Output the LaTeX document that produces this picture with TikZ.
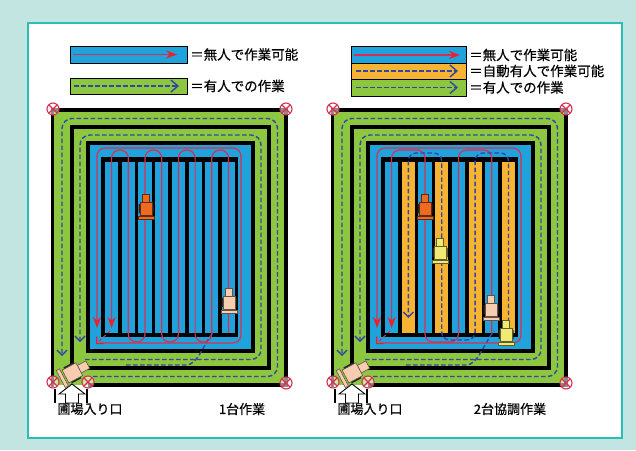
\documentclass[tikz,border=0pt]{standalone}
\usepackage{fontspec}
\setmainfont{Noto Sans CJK JP}[FakeBold=0.5]
\usetikzlibrary{arrows.meta}

\definecolor{mizu}{RGB}{32,163,221}
\definecolor{midori}{RGB}{141,198,63}
\definecolor{daidai}{RGB}{247,180,50}
\definecolor{akairo}{RGB}{214,48,80}
\definecolor{yajiri}{RGB}{236,32,40}
\definecolor{aoiro}{RGB}{50,70,165}
\definecolor{fuchi}{RGB}{42,190,180}
\definecolor{haikei}{RGB}{194,229,225}
\definecolor{konbain}{RGB}{240,105,35}
\definecolor{hada}{RGB}{247,205,175}
\definecolor{kinari}{RGB}{240,234,115}

% machine seen from above: cab up, header down
\tikzset{
  pics/kikai/.style={code={
    \fill[black!85] (-7.5,-3) rectangle (-5,6) (5,-3) rectangle (7.5,6);
    \draw[fill=#1, draw=#1!40!black, line width=0.6pt] (-3.5,-13) rectangle (3.5,-5);
    \draw[fill=#1, draw=#1!40!black, line width=0.6pt] (-6,-5) rectangle (6,8);
    \draw[fill=#1, draw=#1!40!black, line width=0.6pt] (-8,9.5) rectangle (8,12.5);
  }},
  pics/batsu/.style={code={
    \draw[akairo, line width=1.1pt, fill=white, fill opacity=0.55] (0,0) circle (6pt);
    \draw[akairo, line width=1.1pt] (-4.2,-4.2) -- (4.2,4.2) (-4.2,4.2) -- (4.2,-4.2);
  }}
}

\begin{document}
\begin{tikzpicture}[x=1pt, y=-1pt,
    kuro/.style={line width=3.5pt},
    akasen/.style={draw=akairo, line width=1.2pt},
    aosen/.style={draw=aoiro, line width=1.4pt, dash pattern=on 4.5pt off 2.5pt},
    yaji/.style={-{Stealth[length=11pt, width=8pt, color=yajiri]}},
    kagi/.style={-{Straight Barb[length=5pt, width=10pt, line width=1.4pt]}},
    ookagi/.style={-{Straight Barb[length=7pt, width=12pt, line width=1.4pt]}},
    hanrei/.style={draw=black, line width=1pt},
    moji/.style={anchor=west, inner sep=0pt, font=\fontsize{13.5}{15}\selectfont},
    midashi/.style={inner sep=0pt, font=\fontsize{13}{15}\selectfont}
  ]
  \useasboundingbox (0,0) rectangle (636,450);
  \fill[haikei] (0,0) rectangle (636,450);
  \draw[fuchi, fill=white, line width=1.2pt] (28,23) rectangle (622,438);

  % legends
  \draw[hanrei, fill=mizu] (70,46) rectangle (187,63);
  \draw[akasen, yaji] (73,54.5) -- (177,54.5);
  \draw[hanrei, fill=midori] (70,78) rectangle (187,94);
  \draw[aosen, ookagi] (74,86) -- (179,86);
  \node[moji] (mujin1) at (190,54.5) {＝無人で作業可能};
  \node[moji] (yujin1) at (190,86) {＝有人での作業};

  \draw[hanrei, fill=mizu] (351,46) rectangle (466,63);
  \draw[hanrei, fill=daidai] (351,63) rectangle (466,79);
  \draw[hanrei, fill=midori] (351,79) rectangle (466,96);
  \draw[akasen, yaji] (354,55) -- (460,55);
  \draw[aosen, ookagi] (356,71) -- (458,71);
  \draw[aosen, ookagi] (356,87.5) -- (458,87.5);
  \node[moji] (mujin2) at (469,55) {＝無人で作業可能};
  \node[moji] (jidou2) at (469,71) {＝自動有人で作業可能};
  \node[moji] (yujin2) at (469,87.5) {＝有人での作業};

  % fields: headland rings and work area
  \foreach \dx in {0,280} {
    \begin{scope}[xshift=\dx pt]
      \fill[midori] (52.5,110) rectangle (286,385);
      \draw[kuro] (88,385) -- (286,385) -- (286,110) -- (52.5,110) -- (52.5,386.5);
      \draw[kuro] (72,127) rectangle (269,368);
      \draw[kuro, fill=mizu] (88,143) rectangle (253,351);
      \fill (101,157) rectangle (238,337);
    \end{scope}
  }
  \foreach \i in {0,...,7}
    \fill[mizu] ({105+16.7*\i},162) rectangle +(13.2,171);
  \foreach \i/\iro in {0/mizu,1/daidai,2/mizu,3/daidai,4/mizu,5/daidai,6/mizu,7/daidai}
    \fill[\iro] ({385+16.7*\i},162) rectangle +(13.2,171);

  \foreach \dx in {0,280} {
    \begin{scope}[xshift=\dx pt]
      % manned laps in the headland
      \draw[aosen, kagi, rounded corners=10pt] (93,376.5) -- (277.5,376.5) -- (277.5,118.5) -- (62,118.5) -- (62,356);
      \draw[aosen, kagi, rounded corners=10pt] (85,359.5) -- (261,359.5) -- (261,135) -- (80,135) -- (80,342);
      \draw[aosen] (126,365) -- (186,365) .. controls (198,365) and (204,343) .. (214,331);
      % unmanned lap round the work area
      \draw[akasen, yaji, rounded corners=8pt] (100,343) -- (241,343) -- (241,148) -- (97,148) -- (97,328);
      \draw[akasen, dashed, -{Straight Barb[length=5pt, width=10pt, line width=1.2pt, color=yajiri]}] (110,331) -- (96,344);
      % entrance
      \draw[line width=1.2pt] (55,389) -- (55,403) (87,389) -- (87,403);
      \draw[fill=white, line width=0.9pt] (72,384) -- (85,394) -- (78.5,394) -- (78.5,403) -- (65.5,403) -- (65.5,394) -- (59,394) -- cycle;
      \pic[rotate=-62, scale=1.2] at (74,372) {kikai=hada};
      \foreach \p in {(53,109),(286,109),(53,382),(88,382),(286,383)}
        \pic at \p {batsu};
      \node[midashi] (iriguchi\dx) at (90,409) {圃場入り口};
    \end{scope}
  }

  % one unmanned combine
  \draw[akasen, yaji, rounded corners=8pt] (228.5,333) -- (228.5,150) -- (211.8,150) -- (211.8,342) -- (195.1,342) -- (195.1,150) -- (178.4,150) -- (178.4,342) -- (161.7,342) -- (161.7,150) -- (145,150) -- (145,342) -- (128.3,342) -- (128.3,150) -- (111.6,150) -- (111.6,328);
  \pic at (146,207) {kikai=konbain};
  \pic at (229,301) {kikai=hada};
  \node[midashi] (ichidai) at (242,409) {1台作業};

  % unmanned and auto-manned side by side
  \draw[akasen, yaji, rounded corners=8pt] (491.8,333) -- (491.8,150) -- (458.4,150) -- (458.4,342) -- (425,342) -- (425,150) -- (391.6,150) -- (391.6,328);
  \draw[aosen, kagi, rounded corners=8pt] (508.5,322) -- (508.5,153) -- (475.1,153) -- (475.1,340) -- (441.7,340) -- (441.7,153) -- (408.3,153) -- (408.3,318);
  \pic at (425,207) {kikai=konbain};
  \pic at (440,251) {kikai=kinari};
  \pic at (491,308) {kikai=hada};
  \pic at (506,333) {kikai=kinari};
  \node[midashi] (nidai) at (510,409) {2台協調作業};
\end{tikzpicture}
\end{document}
